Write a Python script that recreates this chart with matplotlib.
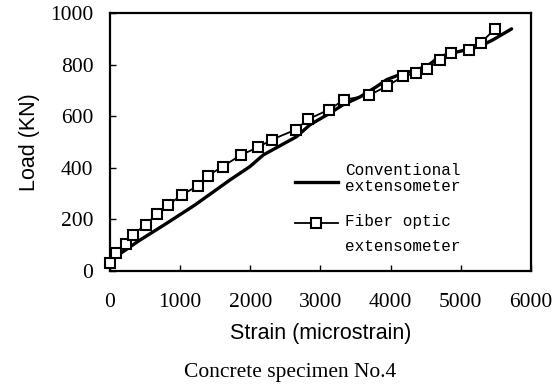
import matplotlib.pyplot as plt
import numpy as np

# data
fiber_strain = [0, 86, 228, 323, 508, 665, 822, 1021, 1259, 1392, 1606, 1866,
                2114, 2304, 2646, 2827, 3117, 3339, 3695, 3943, 4180, 4361,
                4513, 4703, 4855, 5121, 5283, 5487]
fiber_load = [30, 69, 105, 141, 179, 221, 254, 295, 331, 369, 405, 450,
              480, 509, 548, 589, 625, 664, 682, 716, 755, 768,
              783, 817, 845, 858, 884, 939]

conv_strain = [47, 400, 808, 1211, 1710, 1995, 2185, 2660, 2850, 3135, 3325,
               3563, 3800, 3943, 4085, 4513, 4703, 4988, 5273, 5463, 5725]
conv_load = [49, 115, 185, 256, 353, 405, 450, 521, 567, 612, 645,
             675, 715, 742, 757, 793, 832, 852, 871, 897, 939]

x_ticks = [0, 1000, 2000, 3000, 4000, 5000, 6000]
y_ticks = [0, 200, 400, 600, 800, 1000]

fig = plt.figure(figsize=(5.59, 3.86), dpi=100)
ax = fig.add_axes([0.1968, 0.298, 0.753, 0.668])

ax.plot(conv_strain, conv_load, color='black', linewidth=2.4, solid_capstyle='round')
ax.plot(fiber_strain, fiber_load, color='black', linewidth=1.3,
        marker='s', markersize=7.5, markerfacecolor='white',
        markeredgecolor='black', markeredgewidth=1.5, clip_on=False, zorder=5)

ax.set_xlim(0, 6000)
ax.set_ylim(0, 1000)
ax.set_xticks(x_ticks)
ax.set_yticks(y_ticks)
ax.set_xticklabels([str(t) for t in x_ticks], family='Liberation Serif', fontsize=15.5)
ax.set_yticklabels([str(t) for t in y_ticks], family='Liberation Serif', fontsize=15.5)
ax.tick_params(axis='both', direction='in', length=4, width=1)
ax.tick_params(axis='x', pad=16)
ax.tick_params(axis='y', pad=12)
for s in ax.spines.values():
    s.set_linewidth(1.6)

ax.set_xlabel('Strain (microstrain)', family='Liberation Sans', fontsize=15.5, labelpad=8)
ax.set_ylabel('Load (KN)', family='Liberation Sans', fontsize=15.5, labelpad=7)

fig.text(0.519, 0.036, 'Concrete specimen No.4', family='Liberation Serif',
         fontsize=15.5, ha='center', va='center')

# hand-made legend
mono = dict(family='Liberation Mono', fontsize=11.5, va='center', ha='left',
            transform=ax.transAxes)
ax.plot([0.439, 0.542], [0.345, 0.345], color='black', linewidth=2.4,
        transform=ax.transAxes)
ax.text(0.558, 0.391, 'Conventional', **mono)
ax.text(0.558, 0.329, 'extensometer', **mono)
ax.plot([0.439, 0.542], [0.186, 0.186], color='black', linewidth=1.3,
        transform=ax.transAxes)
ax.plot([0.4905], [0.186], marker='s', markersize=7.5, markerfacecolor='white',
        markeredgecolor='black', markeredgewidth=1.5, transform=ax.transAxes)
ax.text(0.558, 0.19, 'Fiber optic', **mono)
ax.text(0.558, 0.093, 'extensometer', **mono)

fig.savefig('out.png', dpi=100)
